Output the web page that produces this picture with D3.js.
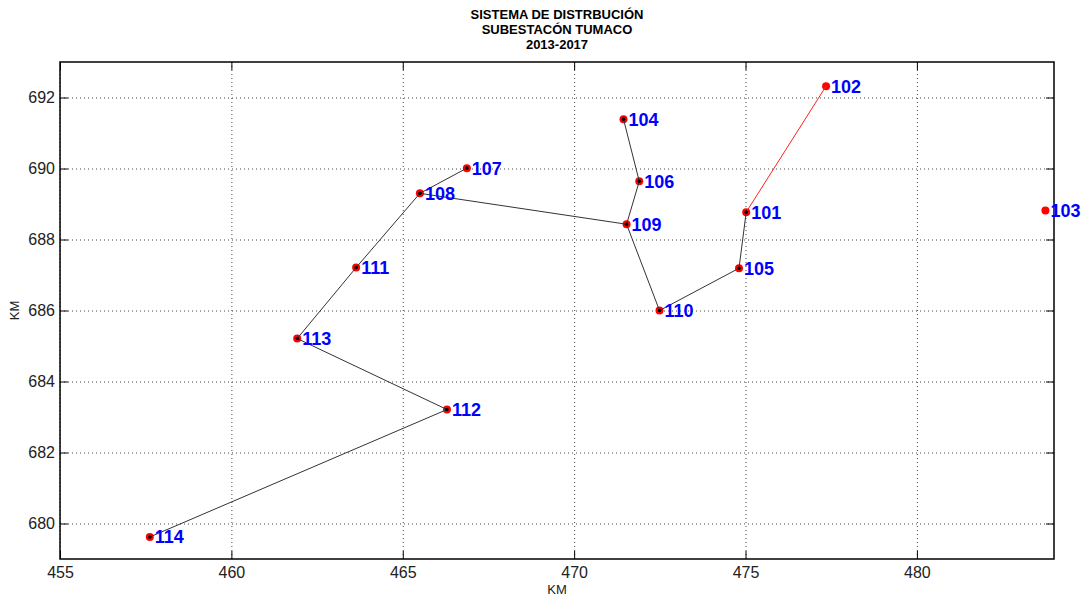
<!DOCTYPE html>
<html>
<head>
<meta charset="utf-8">
<script src="https://cdn.jsdelivr.net/npm/d3@7"></script>
<style>
  body { margin: 0; background: #fff; }
  svg { display: block; font-family: Arial, "Liberation Sans", sans-serif; }
</style>
</head>
<body>
<svg id="chart" width="1088" height="599"></svg>
<script>
// Node coordinates of the distribution network (km)
const nodeIds = ["101", "102", "103", "104", "105", "106", "107", "108", "109", "110", "111", "112", "113", "114"];
const nodeX = [475.02, 477.35, 483.75, 471.44, 474.81, 471.90, 466.87, 465.50, 471.53, 472.49, 463.64, 466.29, 461.92, 457.62];
const nodeY = [688.77, 692.32, 688.82, 691.39, 687.19, 689.64, 690.01, 689.30, 688.43, 686.00, 687.21, 683.21, 685.21, 679.62];

// Line segments (from, to)
const redLinks = [["101", "102"]];
const blackLinks = [
  ["101", "105"], ["105", "110"], ["110", "109"], ["109", "106"], ["106", "104"],
  ["109", "108"], ["108", "107"], ["108", "111"], ["111", "113"], ["113", "112"], ["112", "114"]
];

const xTicks = [455, 460, 465, 470, 475, 480];
const yTicks = [680, 682, 684, 686, 688, 690, 692];
const titleLines = ["SISTEMA DE DISTRBUCIÓN", "SUBESTACÓN TUMACO", "2013-2017"];

const svg = d3.select("#chart");
const plotL = 60, plotR = 1054, plotT = 62, plotB = 559;

const x = d3.scaleLinear().domain([455, 484]).range([plotL, plotR]);
const y = d3.scaleLinear().domain([679, 693]).range([plotB, plotT]);

const nodes = nodeIds.map((id, i) => ({ id, x: nodeX[i], y: nodeY[i] }));
const byId = new Map(nodes.map(d => [d.id, d]));

// Grid
const grid = svg.append("g");
grid.selectAll(".gx").data(xTicks).join("line")
  .attr("x1", d => x(d) + 0.5).attr("x2", d => x(d) + 0.5)
  .attr("y1", plotT).attr("y2", plotB)
  .attr("stroke", "#444").attr("stroke-width", 1)
  .attr("stroke-dasharray", "1,3");
grid.selectAll(".gy").data(yTicks).join("line")
  .attr("x1", plotL).attr("x2", plotR)
  .attr("y1", d => y(d) + 0.5).attr("y2", d => y(d) + 0.5)
  .attr("stroke", "#444").attr("stroke-width", 1)
  .attr("stroke-dasharray", "1,3");

// Axes (ticks inward, on all four sides)
const tick = 8;
const ax = svg.append("g");
ax.append("g").attr("transform", `translate(0,${plotB})`)
  .call(d3.axisBottom(x).tickValues(xTicks).tickSizeInner(-tick).tickSizeOuter(0).tickPadding(8))
  .call(g => g.select(".domain").remove());
ax.append("g").attr("transform", `translate(0,${plotT})`)
  .call(d3.axisTop(x).tickValues(xTicks).tickSizeInner(-tick).tickSizeOuter(0).tickFormat(""))
  .call(g => g.select(".domain").remove());
ax.append("g").attr("transform", `translate(${plotL},0)`)
  .call(d3.axisLeft(y).tickValues(yTicks).tickSizeInner(-tick).tickSizeOuter(0).tickPadding(5))
  .call(g => g.select(".domain").remove());
ax.append("g").attr("transform", `translate(${plotR},0)`)
  .call(d3.axisRight(y).tickValues(yTicks).tickSizeInner(-tick).tickSizeOuter(0).tickFormat(""))
  .call(g => g.select(".domain").remove());
ax.selectAll(".tick line").attr("stroke", "#000");
ax.selectAll(".tick text").attr("font-size", 16).attr("fill", "#222")
  .attr("font-family", "Arial, 'Liberation Sans', sans-serif");

svg.append("rect").attr("x", plotL).attr("y", plotT)
  .attr("width", plotR - plotL).attr("height", plotB - plotT)
  .attr("fill", "none").attr("stroke", "#000").attr("stroke-width", 1.5);

// Markers
const connected = new Set(blackLinks.flat());
svg.append("g").selectAll("circle").data(nodes).join("circle")
  .attr("cx", d => x(d.x)).attr("cy", d => y(d.y)).attr("r", 4)
  .attr("fill", "#ff0000");

// Links
const linkG = svg.append("g");
linkG.selectAll(".red").data(redLinks).join("line")
  .attr("x1", d => x(byId.get(d[0]).x)).attr("y1", d => y(byId.get(d[0]).y))
  .attr("x2", d => x(byId.get(d[1]).x)).attr("y2", d => y(byId.get(d[1]).y))
  .attr("stroke", "#ff2020").attr("stroke-width", 1);

const blackG = svg.append("g");
blackG.selectAll("line").data(blackLinks).join("line")
  .attr("x1", d => x(byId.get(d[0]).x)).attr("y1", d => y(byId.get(d[0]).y))
  .attr("x2", d => x(byId.get(d[1]).x)).attr("y2", d => y(byId.get(d[1]).y))
  .attr("stroke", "#333").attr("stroke-width", 1);
blackG.selectAll("circle").data(nodes.filter(d => connected.has(d.id))).join("circle")
  .attr("cx", d => x(d.x)).attr("cy", d => y(d.y)).attr("r", 1.8)
  .attr("fill", "#000");

// Node labels
svg.append("g").selectAll("text").data(nodes).join("text")
  .attr("x", d => x(d.x) + 5).attr("y", d => y(d.y) + 6.5)
  .attr("font-size", 18).attr("font-weight", "bold").attr("fill", "#0000ff")
  .text(d => d.id);

// Title
svg.append("g").selectAll("text").data(titleLines).join("text")
  .attr("x", (plotL + plotR) / 2).attr("y", (d, i) => 19 + i * 15)
  .attr("text-anchor", "middle").attr("font-size", 13).attr("font-weight", "bold")
  .attr("fill", "#000").text(d => d);

// Axis labels
svg.append("text").attr("x", (plotL + plotR) / 2).attr("y", 594)
  .attr("text-anchor", "middle").attr("font-size", 13).attr("fill", "#222").text("KM");
svg.append("text").attr("transform", `translate(19,${(plotT + plotB) / 2}) rotate(-90)`)
  .attr("text-anchor", "middle").attr("font-size", 13).attr("fill", "#222").text("KM");
</script>
</body>
</html>
